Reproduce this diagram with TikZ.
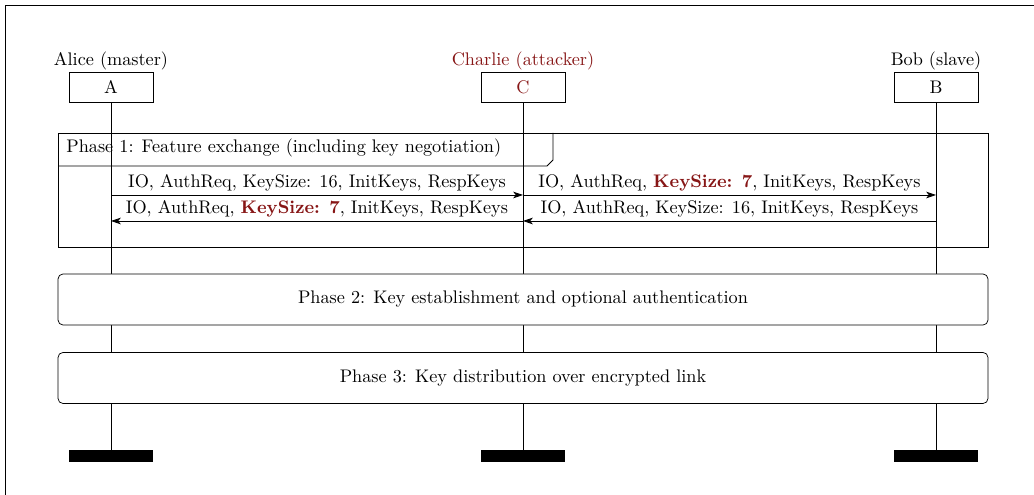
\documentclass[tikz,border=0pt]{standalone}
\usetikzlibrary{arrows.meta}
\definecolor{attack}{RGB}{135,22,22}
\begin{document}
\begin{tikzpicture}[x=0.5484pt,y=-0.5484pt,
  >={Stealth[length=5.4pt,width=3.6pt,inset=1.5pt]},
  head/.style={draw, minimum width=46.07pt, minimum height=16.45pt, inner sep=0pt},
  role/.style={anchor=base, inner sep=0pt},
  endbar/.style={fill=black, minimum width=46.07pt, minimum height=6.3pt, inner sep=0pt},
  phase/.style={draw, rounded corners=2.75pt, fill=white, minimum width=510pt, minimum height=28pt, inner sep=0pt},
  msg/.style={anchor=base, inner sep=0pt, yshift=4.1pt},
  hl/.style={text=attack}]
\useasboundingbox (0,0) rectangle (1034,495);
\draw (5,495) -- (5,5) -- (1034,5);

% roles
\node[role] (la) at (111,66) {Alice (master)};
\node[role, hl] (lc) at (523,66) {Charlie (attacker)};
\node[role] (lb) at (936,66) {Bob (slave)};
\node[head] (A) at (111,87) {A};
\node[head, hl] (C) at (523,87) {C};
\node[head] (B) at (936,87) {B};
\node[endbar] (Ae) at (111,455.8) {};
\node[endbar] (Ce) at (523,455.8) {};
\node[endbar] (Be) at (936,455.8) {};
\draw (A.south) -- (Ae.north);
\draw (C.south) -- (Ce.north);
\draw (B.south) -- (Be.north);

% phase 1
\node[draw, minimum width=510pt, minimum height=62.5pt, inner sep=0pt] (p1) at (523,190) {};
\node[anchor=base west, inner sep=0pt] (p1t) at (66,153) {Phase 1: Feature exchange (including key negotiation)};
\draw (58,166) -- (547,166) -- (553,160) -- (553,133);

\coordinate (a1) at (111,195);
\coordinate (c1) at (523,195);
\coordinate (b1) at (936,195);
\coordinate (a2) at (111,221);
\coordinate (c2) at (523,221);
\coordinate (b2) at (936,221);
\draw[->] (a1) -- node[msg, midway] {IO, AuthReq, KeySize: 16, InitKeys, RespKeys} (c1);
\draw[->] (c1) -- node[msg, midway] {IO, AuthReq, \textcolor{attack}{\textbf{KeySize: 7}}, InitKeys, RespKeys} (b1);
\draw[->] (b2) -- node[msg, midway] {IO, AuthReq, KeySize: 16, InitKeys, RespKeys} (c2);
\draw[->] (c2) -- node[msg, midway] {IO, AuthReq, \textcolor{attack}{\textbf{KeySize: 7}}, InitKeys, RespKeys} (a2);

% phases 2 and 3
\node[phase] (p2) at (523,299.5) {Phase 2: Key establishment and optional authentication};
\node[phase] (p3) at (523,378) {Phase 3: Key distribution over encrypted link};
\end{tikzpicture}
\end{document}
